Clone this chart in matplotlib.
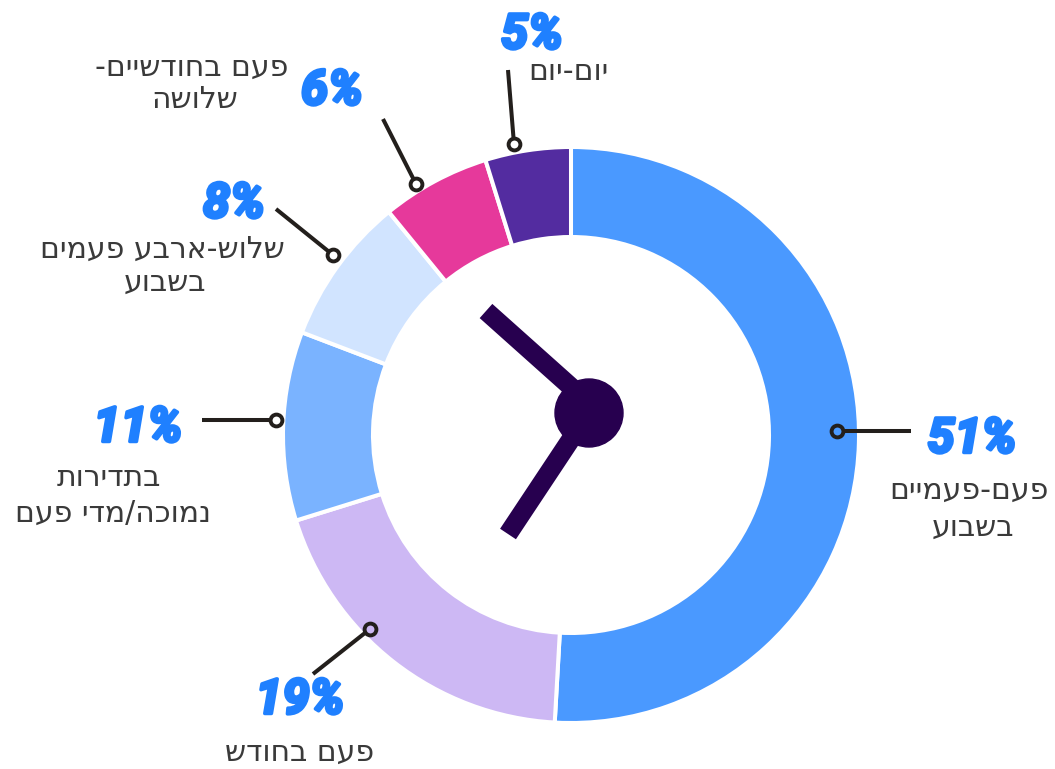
import numpy as np
import matplotlib
matplotlib.use("Agg")
import matplotlib.pyplot as plt
import matplotlib.patheffects as pe

# clockwise from 12 o'clock, slice sizes as measured (labels are the rounded ones)
values = [50.9, 19.3, 10.6, 8.3, 6.1, 4.8]
pct_labels = ["51%", "19%", "11%", "8%", "6%", "5%"]
# logical order, one entry per line of text
text_lines = [
    ["פעם-פעמיים", "בשבוע"],
    ["פעם בחודש"],
    ["בתדירות", "נמוכה/מדי פעם"],
    ["שלוש-ארבע פעמים", "בשבוע"],
    ["פעם בחודשיים-", "שלושה"],
    ["יום-יום"],
]
colors = ["#4a99ff", "#cdb8f4", "#7ab3ff", "#d1e4ff", "#e6399b", "#532ca0"]

# all layout below is in image pixels
W, H = 1055, 769
CX, CY = 571, 435

dot_xy = [(837, 431), (370, 629), (276, 420), (333, 255), (416, 184), (514, 144)]
line_end_xy = [(911, 431), (313, 674), (202, 420), (276, 209), (383, 119), (508, 70)]
pct_xy = [(972, 439), (300, 700), (138, 428), (234, 204), (332, 91), (532, 35)]
text_xy = [
    [(969, 490), (973, 527)],
    [(300, 752)],
    [(109, 477), (113, 513)],
    [(162, 249), (165, 282)],
    [(192, 67), (195, 100)],
    [(568, 72)],
]

plt.rcParams['font.family'] = ['DejaVu Sans']

fig = plt.figure(figsize=(W / 100, H / 100), dpi=100)
ax = fig.add_axes([0, 0, 1, 1])

# y axis is flipped below, so -90 is the top and counterclock runs clockwise on screen
ax.pie(values, colors=colors, startangle=-90, counterclock=True, center=(CX, CY), radius=288,
       wedgeprops=dict(width=90, edgecolor='white', linewidth=2.9))
ax.set_xlim(0, W)
ax.set_ylim(H, 0)
ax.set_aspect('auto')
ax.axis('off')

# clock hands
hand = '#27004f'
ax.plot([486, 589], [311, 403], color=hand, linewidth=13.7, solid_capstyle='butt', zorder=4)
ax.plot([508, 589], [534, 412], color=hand, linewidth=13.7, solid_capstyle='butt', zorder=4)
ax.add_patch(plt.Circle((589, 413), 34, color=hand, zorder=5))

for i in range(len(values)):
    dx, dy = dot_xy[i]
    ex, ey = line_end_xy[i]
    d = np.hypot(ex - dx, ey - dy)
    sx = dx + (ex - dx) * 6 / d
    sy = dy + (ey - dy) * 6 / d
    ax.plot([sx, ex], [sy, ey], color='#231f1c', linewidth=2.9, solid_capstyle='butt', zorder=6)
    ax.plot([dx], [dy], marker='o', markersize=8.5, markerfacecolor='none', markeredgecolor='#231f1c',
            markeredgewidth=2.8, zorder=7)

    ax.text(pct_xy[i][0], pct_xy[i][1], pct_labels[i], color='#1f80ff', fontsize=35, fontweight='bold',
            fontstyle='italic', family=['Roboto'], ha='center', va='center',
            zorder=8, path_effects=[pe.withStroke(linewidth=2.5, foreground='#1f80ff')])

    # matplotlib has no bidi layout, so hebrew goes in visual order
    for line, (tx, ty) in zip(text_lines[i], text_xy[i]):
        ax.text(tx, ty, line[::-1], color='#3a3a3a', fontsize=21.5, ha='center', va='center', zorder=8)

fig.savefig('out.png', dpi=100)
